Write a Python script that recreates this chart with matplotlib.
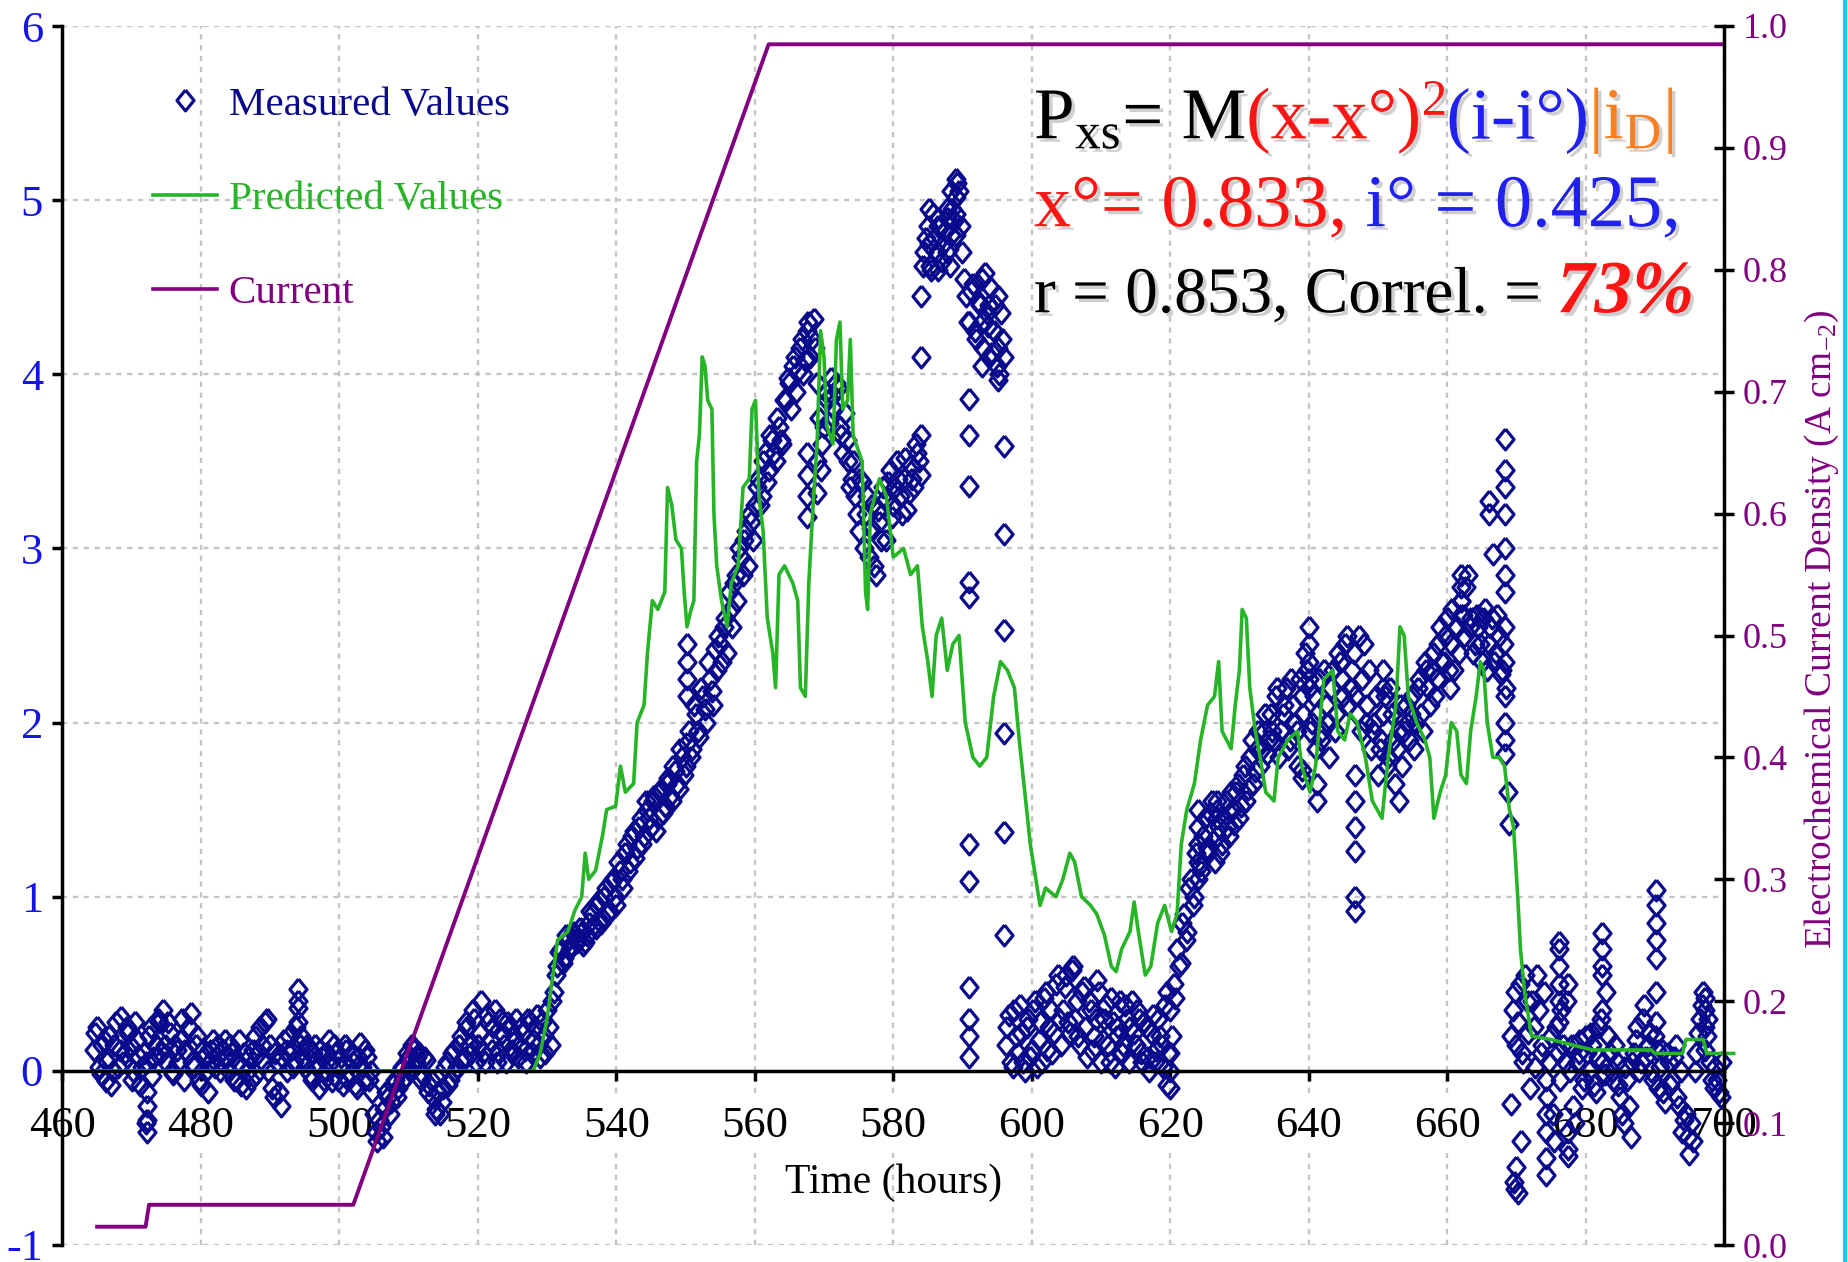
import numpy as np
import matplotlib.pyplot as plt
from matplotlib import transforms
from matplotlib.lines import Line2D
from matplotlib.offsetbox import TextArea, HPacker, VPacker, AnchoredOffsetbox
import matplotlib.patheffects as pe

plt.rcParams['font.family'] = ['Liberation Serif', 'DejaVu Serif']
plt.rcParams['mathtext.fontset'] = 'custom'
plt.rcParams['mathtext.rm'] = 'Liberation Serif'
plt.rcParams['mathtext.it'] = 'Liberation Serif:italic'
plt.rcParams['mathtext.bf'] = 'Liberation Serif:bold'
plt.rcParams['axes.unicode_minus'] = False

# measured values, one every half hour starting at 464.5 h (rows of 10 h)
meas_v = [
    0.12, 0.25, -0.02, 0.18, 0.05, -0.08, 0.15, 0.02, 0.31, 0.10, 0.22, -0.05, 0.28, 0.08, 0.02, -0.30, 0.20, -0.03, 0.15, 0.28,   # 464.5
    0.35, 0.05, 0.22, -0.02, 0.12, 0.18, -0.05, 0.10, 0.33, 0.02, 0.20, -0.08, 0.08, -0.12, 0.12, 0.02, 0.15, 0.05, 0.18, 0.00,   # 474.5
    0.10, -0.05, 0.18, 0.02, -0.10, 0.08, 0.12, -0.02, 0.25, 0.05, 0.30, 0.15, -0.15, 0.05, -0.20, 0.18, 0.00, 0.12, 0.05, 0.40,  # 484.5
    0.20, 0.02, 0.12, -0.05, 0.15, -0.10, 0.08, 0.00, 0.18, -0.06, 0.10, 0.02, -0.08, 0.12, -0.02, 0.05, -0.10, 0.16, -0.05, 0.08, # 494.5
    0.00, -0.25, -0.40, -0.32, -0.22, -0.15, -0.18, -0.05, -0.10, 0.02, -0.04, 0.08, 0.15, 0.05, 0.10, -0.02, 0.06, -0.08, -0.15, -0.22,  # 504.5
    -0.25, -0.10, 0.05, -0.05, 0.12, 0.02, 0.20, 0.08, 0.25, 0.10, 0.30, 0.15, 0.40, 0.05, 0.28, 0.12, 0.35, 0.10, 0.22, 0.05,   # 514.5
    0.25, 0.10, 0.30, 0.15, 0.22, 0.05, 0.28, 0.18, 0.32, 0.08, 0.20, 0.35, 0.15, 0.45, 0.60, 0.70, 0.65, 0.75, 0.72, 0.78,       # 524.5
    0.76, 0.80, 0.74, 0.85, 0.90, 0.82, 0.98, 0.88, 1.05, 0.92, 1.10, 0.95, 1.15, 1.05, 1.30, 1.20, 1.38, 1.28, 1.45, 1.35,       # 534.5
    1.50, 1.40, 1.58, 1.45, 1.62, 1.52, 1.68, 1.55, 1.72, 1.62, 1.80, 1.75, 1.95, 1.85, 2.05, 1.92, 2.15, 2.00, 2.25, 2.10,       # 544.5
    2.30, 2.45, 2.55, 2.40, 2.65, 2.80, 2.70, 2.95, 3.05, 2.90, 3.15, 3.25, 3.40, 3.30, 3.55, 3.45, 3.62, 3.50, 3.70, 3.60,       # 554.5
    3.85, 3.95, 4.05, 3.90, 4.15, 4.00, 4.25, 4.10, 4.32, 3.95, 3.45, 3.70, 3.85, 3.98, 3.80, 3.92, 3.65, 3.78, 3.50, 3.40,       # 564.5
    3.30, 3.10, 3.38, 3.20, 2.95, 3.25, 2.85, 3.15, 3.35, 3.05, 3.45, 3.25, 3.50, 3.30, 3.40, 3.22, 3.48, 3.35, 3.55, 3.42,       # 574.5
    4.70, 4.85, 4.60, 4.78, 4.90, 4.65, 4.82, 4.72, 4.95, 4.80, 5.05, 4.70, 4.45, 4.30, 4.52, 4.20, 4.40, 4.15, 4.35, 4.50,       # 584.5
    4.25, 4.05, 4.35, 4.10, 0.25, 0.05, 0.35, 0.10, 0.22, 0.00, 0.30, 0.12, 0.40, 0.18, 0.05, 0.45, 0.25, 0.10, 0.50, 0.30,       # 594.5
    0.35, 0.55, 0.22, 0.60, 0.40, 0.15, 0.48, 0.08, 0.35, 0.20, 0.52, 0.05, 0.30, 0.15, 0.42, 0.02, 0.25, 0.10, 0.38, 0.05,       # 604.5
    0.40, 0.15, 0.30, 0.05, 0.25, 0.00, 0.32, 0.12, 0.20, 0.02, -0.08, 0.35, 0.50, 0.70, 0.62, 0.90, 0.80, 1.10, 1.00, 1.30,      # 614.5
    1.15, 1.45, 1.25, 1.55, 1.20, 1.40, 1.30, 1.55, 1.35, 1.50, 1.60, 1.45, 1.70, 1.55, 1.80, 1.65, 1.85, 1.75, 1.95, 1.82,       # 624.5
    2.05, 1.90, 2.20, 1.95, 2.10, 1.85, 2.25, 2.00, 1.75, 2.15, 2.40, 2.20, 2.00, 1.85, 2.25, 1.95, 2.10, 1.80, 2.30, 2.05,       # 634.5
    2.35, 2.15, 2.50, 2.20, 2.40, 2.05, 1.95, 2.45, 2.10, 1.85, 2.00, 1.70, 1.90, 2.15, 1.80, 2.05, 1.65, 1.95, 1.75, 2.10,       # 644.5
    1.90, 2.15, 2.00, 2.25, 1.95, 2.30, 2.10, 2.40, 2.25, 2.55, 2.35, 2.60, 2.45, 2.30, 2.55, 2.70, 2.50, 2.85, 2.60, 2.45,       # 654.5
    2.55, 2.35, 2.65, 2.45, 2.60, 2.40, 2.50, 2.30, 2.20, 1.42, 0.35, 0.15, 0.50, 0.05, 0.40, -0.10, 0.25, 0.55, 0.10, 0.45,      # 664.5
    -0.15, 0.20, -0.40, 0.10, 0.35, 0.05, 0.50, 0.15, -0.30, 0.10, -0.10, 0.20, 0.00, 0.15, -0.12, 0.25, 0.05, 0.45, 0.10, -0.05, # 674.5
    0.05, -0.15, -0.30, -0.05, -0.38, 0.10, 0.25, 0.05, 0.38, 0.15, 0.00, 0.20, -0.10, 0.12, -0.18, 0.05, -0.05, 0.15, -0.20, -0.35,  # 684.5
    -0.25, -0.48, -0.40, 0.10, 0.30, 0.45, 0.20, 0.05, -0.10, -0.05, -0.15,                                                        # 694.5
]
meas_t = 464.5 + 0.5 * np.arange(len(meas_v))

# measured values read in between, starting at 464.75 h (rows of 10 h)
meas2_v = [
    0.22, 0.02, 0.15, -0.06, 0.20, 0.00, 0.28, 0.12, 0.05, 0.25, 0.15, 0.00, 0.18, -0.08, 0.10, 0.05, 0.25, 0.08, 0.30, 0.10,      # 464.75
    0.15, 0.28, 0.00, 0.15, 0.05, 0.30, 0.12, 0.25, 0.05, 0.15, -0.05, 0.12, 0.00, 0.05, 0.18, 0.08, 0.00, 0.12, 0.08, 0.15,       # 474.75
    -0.05, 0.05, -0.08, 0.10, 0.00, -0.05, 0.20, 0.10, 0.15, 0.28, 0.00, -0.10, 0.10, -0.12, 0.08, 0.12, 0.20, 0.02, 0.25, 0.15,   # 484.75
    0.08, 0.15, -0.02, 0.10, 0.02, 0.12, -0.05, 0.10, 0.05, 0.15, -0.05, 0.08, 0.15, -0.05, 0.10, -0.08, 0.08, 0.02, 0.12, -0.05,  # 494.75
    -0.12, -0.35, -0.28, -0.38, -0.12, -0.25, -0.08, -0.15, 0.00, -0.05, 0.10, 0.00, 0.12, 0.08, -0.05, 0.08, -0.12, -0.05, -0.25, -0.12,  # 504.75
    -0.18, 0.02, -0.08, 0.10, 0.00, 0.15, 0.05, 0.28, 0.15, 0.35, 0.05, 0.22, 0.10, 0.32, 0.18, 0.25, 0.05, 0.30, 0.15, 0.28,      # 514.75
    0.12, 0.20, 0.08, 0.25, 0.12, 0.30, 0.10, 0.25, 0.15, 0.28, 0.10, 0.25, 0.40, 0.55, 0.68, 0.62, 0.78, 0.70, 0.80, 0.74,        # 524.75
    0.82, 0.72, 0.78, 0.92, 0.84, 0.95, 0.85, 1.00, 0.90, 1.08, 1.00, 1.20, 1.10, 1.25, 1.15, 1.35, 1.22, 1.40, 1.30, 1.55,        # 534.75
    1.45, 1.55, 1.38, 1.60, 1.48, 1.65, 1.58, 1.75, 1.65, 1.85, 1.70, 1.88, 1.80, 2.10, 1.95, 2.20, 2.08, 2.35, 2.18, 2.42,        # 544.75
    2.50, 2.35, 2.60, 2.75, 2.55, 2.85, 3.00, 2.85, 3.10, 3.20, 3.05, 3.35, 3.25, 3.50, 3.38, 3.65, 3.55, 3.75, 3.62, 3.85,        # 554.75
    3.98, 3.80, 4.10, 4.02, 4.20, 4.08, 4.30, 4.20, 4.15, 3.75, 3.60, 3.90, 3.72, 3.88, 3.95, 3.70, 3.55, 3.62, 3.35, 3.50,        # 564.75
    3.20, 3.40, 3.00, 3.30, 3.12, 2.90, 3.22, 3.05, 3.28, 3.38, 3.18, 3.35, 3.40, 3.20, 3.52, 3.32, 3.40, 3.60, 3.50, 4.62,        # 574.75
    4.78, 4.62, 4.92, 4.70, 4.85, 4.75, 4.95, 4.62, 4.88, 5.10, 4.85, 4.55, 4.30, 4.48, 4.25, 4.42, 4.05, 4.58, 4.28, 4.12,        # 584.75
    4.40, 4.00, 4.20, 0.15, 0.32, 0.02, 0.20, 0.38, 0.05, 0.25, 0.08, 0.35, 0.02, 0.28, 0.42, 0.12, 0.35, 0.22, 0.55, 0.15,        # 594.75
    0.48, 0.28, 0.58, 0.30, 0.20, 0.45, 0.25, 0.40, 0.12, 0.30, 0.45, 0.18, 0.38, 0.05, 0.28, 0.20, 0.40, 0.15, 0.30, 0.25,        # 604.75
    0.22, 0.35, 0.10, 0.28, 0.08, 0.22, 0.05, 0.30, 0.15, 0.38, 0.10, 0.20, 0.42, 0.60, 0.85, 0.75, 1.05, 0.95, 1.25, 1.18,        # 614.75
    1.35, 1.28, 1.48, 1.32, 1.50, 1.25, 1.45, 1.40, 1.60, 1.42, 1.65, 1.52, 1.75, 1.62, 1.90, 1.72, 1.95, 1.85, 2.05, 1.90,        # 624.75
    1.95, 2.15, 1.80, 2.05, 2.20, 1.90, 2.10, 1.95, 2.25, 2.05, 2.30, 1.95, 2.15, 2.05, 1.90, 2.30, 2.00, 2.20, 1.95, 2.40,        # 634.75
    2.25, 2.45, 2.10, 2.30, 2.15, 2.50, 2.25, 2.00, 2.30, 1.95, 2.15, 1.85, 2.05, 1.75, 2.20, 1.90, 1.85, 2.10, 1.95, 2.00,        # 644.75
    2.05, 1.85, 2.20, 2.05, 2.35, 2.20, 2.30, 2.15, 2.45, 2.35, 2.50, 2.30, 2.65, 2.55, 2.40, 2.62, 2.78, 2.55, 2.40, 2.62,        # 654.75
    2.45, 2.60, 2.30, 2.55, 2.35, 2.62, 2.28, 2.45, 1.60, 0.20, 0.45, 0.28, 0.10, 0.55, 0.22, 0.40, 0.02, 0.35, 0.15, -0.05,       # 664.75
    0.05, -0.25, 0.25, -0.05, 0.15, 0.40, 0.00, -0.20, 0.05, 0.18, -0.05, 0.10, 0.22, -0.08, 0.08, 0.30, -0.02, 0.20, 0.00, 0.15,  # 674.75
    -0.08, -0.25, 0.02, -0.20, 0.05, 0.18, 0.00, 0.30, 0.08, 0.22, -0.05, 0.12, 0.02, -0.12, 0.10, -0.08, 0.08, -0.15, 0.00, -0.28,  # 684.75
    -0.38, -0.30, 0.00, 0.22, 0.38, 0.12, 0.30, -0.05, 0.02, -0.12, 0.05,                                                          # 694.75
]
meas2_t = 464.75 + 0.5 * np.arange(len(meas2_v))

# extra measured points (vertical stacks / outliers)
stack_t = [472.2, 472.2, 472.2, 472.2, 494.0, 494.0, 494.0,
           550.2, 550.2, 550.2, 550.2, 567.6, 567.6, 567.6, 567.6, 569.0, 569.0,
           584.0, 584.0, 584.0, 585.2, 585.2, 586.5, 586.5, 587.8, 587.8, 588.4, 588.4,
           589.0, 589.0, 589.0,
           590.9, 590.9, 590.9, 590.9, 590.9, 590.9, 590.9, 590.9, 590.9, 590.9, 590.9,
           592.8, 592.8, 593.8, 593.8, 595.2, 595.2, 595.2,
           596.0, 596.0, 596.0, 596.0, 596.0, 596.0,
           620.0, 620.0, 620.0, 619.6, 624.0, 624.0, 624.0, 624.0, 624.0,
           626.8, 626.8, 626.8, 640.0, 640.0, 640.0, 640.0, 641.2, 641.2, 639.0, 639.0,
           646.7, 646.7, 646.7, 646.7, 646.7, 646.7, 650.8, 650.8, 650.8, 653.0,
           662.0, 662.0, 662.0, 662.0, 660.4, 666.0, 666.0, 666.7,
           668.3, 668.3, 668.3, 668.3, 668.3, 668.3, 668.3, 668.3, 668.3, 668.3, 668.3, 668.3, 668.3,
           669.2, 670.7, 670.0, 669.6, 670.2, 669.8,
           674.3, 674.3, 674.3, 674.3, 676.2, 676.2, 676.2, 676.2, 676.2, 676.2,
           677.4, 677.4, 677.4, 682.4, 682.4, 682.4, 682.4, 682.4,
           690.2, 690.2, 690.2, 690.2, 690.2, 690.2, 690.2, 697.2, 697.2, 697.2]
stack_v = [-0.12, -0.20, -0.28, -0.35, 0.47, 0.36, 0.28,
           2.45, 2.35, 2.25, 2.15, 3.18, 3.30, 3.42, 3.55, 3.32, 3.50,
           4.45, 4.10, 3.65, 4.95, 4.75, 4.85, 4.60, 4.90, 4.70, 5.05, 4.80,
           5.12, 5.02, 4.92,
           3.86, 3.65, 3.36, 2.81, 2.72, 1.30, 1.09, 0.48, 0.30, 0.20, 0.08,
           4.55, 4.30, 4.40, 4.10, 4.45, 4.15, 3.97,
           3.59, 3.08, 2.53, 1.94, 1.37, 0.78,
           -0.10, 0.00, 0.10, 0.45, 1.50, 1.40, 1.30, 1.20, 1.10,
           1.55, 1.45, 1.35, 2.55, 2.45, 2.35, 2.25, 1.55, 1.65, 1.73, 1.68,
           1.70, 1.55, 1.40, 1.26, 1.00, 0.92, 2.30, 2.20, 2.05, 1.55,
           2.85, 2.78, 2.70, 2.62, 2.20, 3.27, 3.20, 2.97,
           3.63, 3.45, 3.35, 3.20, 3.00, 2.85, 2.75, 2.55, 2.35, 2.15, 2.00, 1.90, 1.82,
           -0.19, -0.40, -0.55, -0.64, -0.70, -0.68,
           -0.60, -0.50, -0.35, -0.25, 0.74, 0.70, 0.60, 0.50, 0.40, 0.28,
           -0.49, -0.45, -0.35, 0.79, 0.70, 0.60, 0.55, 0.35,
           1.04, 0.95, 0.85, 0.75, 0.65, 0.45, 0.28, 0.42, 0.35, 0.25]

# predicted values (green trace)
pred_t = [465, 528, 529, 530, 530.5, 531, 531.5, 533, 534, 535, 535.5, 536, 537, 538, 538.6, 539.9,
          540.6, 541.3, 542.5, 543, 544, 544.5, 545.2, 546, 547, 547.4, 548, 548.6, 549.4, 549.8,
          550.2, 550.8, 551.2, 551.6, 552.0, 552.4, 552.8, 553.2, 553.8, 554.1, 554.5, 555.2, 556,
          556.6, 557.6, 558.3, 559.2, 559.6, 560.1, 560.6, 561.2, 561.8, 562.6, 563.0, 563.5, 564.3,
          565.5, 566.2, 566.6, 567.3, 567.8, 568.5, 569.0, 569.5, 570.0, 570.4, 571.3, 571.8, 572.3,
          572.7, 573.4, 573.8, 574.2, 575.5, 576.0, 576.3, 576.7, 578.0, 579.0, 580.0, 581.5, 582.5,
          583.5, 584.2, 585.0, 585.6, 586.2, 587.0, 587.8, 588.6, 589.5, 590.4, 591.5, 592.5, 593.5,
          594.5, 595.5, 596.5, 597.5, 598.2, 599.0, 599.8, 600.6, 601.2, 602.0, 603.5, 604.5, 605.5,
          606.2, 607.2, 608.5, 609.4, 610.5, 611.5, 612.2, 613.0, 614.2, 614.8, 615.4, 616.4, 617.2,
          618.2, 619.2, 620.2, 621.0, 621.6, 622.4, 623.5, 624.4, 625.4, 626.4, 627.0, 627.5, 628.8,
          629.4, 630.0, 630.4, 631.0, 631.5, 632.3, 633.0, 633.8, 635.0, 635.6, 637.0, 638.4, 639.0,
          640.2, 641.0, 642.2, 643.5, 644.2, 645.2, 646.0, 647.0, 648.2, 649.2, 650.6, 651.5, 652.6,
          653.2, 653.8, 654.4, 655.6, 656.8, 657.5, 658.1, 659.0, 659.8, 660.6, 661.4, 662.0, 662.8,
          663.4, 664.2, 664.8, 665.3, 665.8, 666.6, 667.5, 668.3, 669.0, 669.6, 670.2, 670.6, 671.2,
          671.8, 672.2, 675.0, 678.0, 681.0, 689.5, 690.0, 694.0, 694.5, 697.0, 697.5, 701.4]
pred_v = [0, 0, 0.1, 0.3, 0.45, 0.6, 0.75, 0.8, 0.92, 1.0, 1.25, 1.1, 1.15, 1.35, 1.5, 1.52,
          1.75, 1.6, 1.65, 2.0, 2.1, 2.4, 2.7, 2.65, 2.75, 3.35, 3.25, 3.05, 3.0, 2.75,
          2.55, 2.65, 2.7, 3.5, 3.65, 4.1, 4.05, 3.85, 3.8, 3.2, 2.9, 2.7, 2.55,
          2.8, 2.9, 3.35, 3.4, 3.8, 3.85, 3.3, 3.1, 2.6, 2.4, 2.2, 2.85, 2.9,
          2.8, 2.7, 2.2, 2.15, 2.8, 3.3, 3.6, 4.25, 4.1, 3.7, 3.6, 4.2, 4.3,
          3.8, 3.85, 4.2, 3.65, 3.5, 2.75, 2.65, 3.2, 3.4, 3.3, 2.95, 3.0, 2.85,
          2.9, 2.55, 2.35, 2.15, 2.5, 2.6, 2.3, 2.45, 2.5, 2.0, 1.8, 1.75, 1.8,
          2.15, 2.35, 2.3, 2.2, 1.9, 1.6, 1.3, 1.1, 0.95, 1.05, 1.0, 1.1, 1.25,
          1.2, 1.0, 0.95, 0.9, 0.78, 0.6, 0.57, 0.7, 0.8, 0.97, 0.8, 0.55, 0.6,
          0.85, 0.95, 0.8, 0.9, 1.3, 1.5, 1.65, 1.9, 2.1, 2.15, 2.35, 1.95, 1.85,
          2.1, 2.3, 2.65, 2.6, 2.2, 1.95, 1.8, 1.6, 1.55, 1.8, 1.9, 1.95, 1.75,
          1.6, 1.75, 2.25, 2.3, 1.95, 1.9, 2.05, 2.0, 1.8, 1.55, 1.45, 1.8, 2.1,
          2.55, 2.5, 2.15, 2.0, 1.9, 1.8, 1.45, 1.6, 1.7, 2.0, 1.95, 1.7, 1.65,
          1.95, 2.15, 2.35, 2.3, 2.0, 1.8, 1.8, 1.75, 1.5, 1.4, 1.0, 0.7, 0.45,
          0.3, 0.2, 0.18, 0.15, 0.12, 0.12, 0.1, 0.1, 0.18, 0.18, 0.1, 0.1]

# electrochemical current density (right axis)
cur_t = [465, 472, 472.5, 502, 562, 700]
cur_v = [0.015, 0.015, 0.033, 0.033, 0.985, 0.985]

NAVY = '#0A0A8C'
GREEN = '#27B427'
PURPLE = '#800080'
BLUE = '#1414E6'

W, H = 1849, 1262
fig = plt.figure(figsize=(W / 100, H / 100), dpi=100)
ax1 = fig.add_axes([62.5 / W, 17 / H, (1724 - 62.5) / W, (1245 - 26) / H])
ax2 = ax1.twinx()
ax2.set_ylim(0, 1)

diamond = [(0, 1), (0.82, 0), (0, -1), (-0.82, 0), (0, 1)]
MS, MEW = 15, 2.3
for tt, vv in [(meas_t, meas_v), (meas2_t, meas2_v), (stack_t, stack_v)]:
    ax1.plot(tt, vv, ls='none', marker=diamond, ms=MS, mfc='none', mec=NAVY, mew=MEW,
             zorder=2, clip_on=False)
ax1.plot(pred_t, pred_v, color=GREEN, lw=2.6, zorder=2.1, clip_on=False)

trans = transforms.blended_transform_factory(ax1.transData, ax2.transData)
ax1.plot(cur_t, cur_v, color=PURPLE, lw=2.8, transform=trans, zorder=2.2)

ax1.set_xlim(460, 700)
ax1.set_ylim(-1, 6)

# spines
ax1.spines['top'].set_visible(False)
ax1.spines['right'].set_visible(False)
ax1.spines['bottom'].set_position(('data', 0))
ax1.spines['bottom'].set_linewidth(2.5)
ax1.spines['left'].set_linewidth(2.5)
for s in ['top', 'left', 'bottom']:
    ax2.spines[s].set_visible(False)
ax2.spines['right'].set_linewidth(2.5)

# ticks
ax1.set_xticks(range(460, 701, 20))
ax1.set_yticks(range(-1, 7))
ax1.tick_params(axis='x', direction='out', length=7, width=2.5, labelsize=32, pad=18)
ax1.tick_params(axis='y', direction='out', length=7, width=2.5, labelsize=32,
                labelcolor=BLUE, pad=7)
for tk in ax1.xaxis.get_major_ticks():
    tk.label1.set_bbox(dict(facecolor='white', edgecolor='none', pad=5))
ax2.set_yticks(np.round(np.arange(0, 1.01, 0.1), 1))
ax2.set_yticklabels(['%.1f' % v for v in np.arange(0, 1.01, 0.1)])
ax2.tick_params(axis='y', direction='inout', length=15, width=2.5, labelsize=26,
                labelcolor=PURPLE, pad=6)

ax1.grid(True, color='#C4C4C4', ls=(0, (2.2, 2.4)), lw=1.7)

ax1.text(0.5, 0.051, 'Time (hours)', transform=ax1.transAxes, ha='center', va='center',
         fontsize=30)
fig.text(1822 / W, 1 - 629 / H, 'Electrochemical Current Density (A cm$_{-2}$)',
         rotation=90, ha='center', va='center', fontsize=27, color=PURPLE)

# legend
handles = [Line2D([], [], ls='none', marker=diamond, ms=MS, mfc='none', mec=NAVY, mew=MEW),
           Line2D([], [], color=GREEN, lw=2.6),
           Line2D([], [], color=PURPLE, lw=2.6)]
labels = ['Measured Values', 'Predicted Values', 'Current']
leg = ax1.legend(handles, labels, loc='upper left', bbox_to_anchor=(153 / W, 1 - 86 / H),
                 bbox_transform=fig.transFigure, frameon=False, fontsize=29.5,
                 handlelength=1.55, handletextpad=0.3, labelspacing=1.38,
                 borderpad=0, borderaxespad=0)
for txt, c in zip(leg.get_texts(), [NAVY, GREEN, PURPLE]):
    txt.set_color(c)

# formula block
shadow = [pe.withSimplePatchShadow(offset=(2.5, -2.5), shadow_rgbFace='#777777', alpha=0.35)]
RED = '#FF1414'
FBLUE = '#2020F0'
ORANGE = '#FF7F1E'


def piece(s, color, size, **kw):
    return TextArea(s, textprops=dict(color=color, fontsize=size, path_effects=shadow, **kw))


line1 = HPacker(children=[piece('P$_{\\mathrm{xs}}$= M', 'black', 52.5),
                          piece('(x-x°)$^{2}$', RED, 52.5),
                          piece('(i-i°)', FBLUE, 52.5),
                          piece('|i$_{\\mathrm{D}}$|', ORANGE, 52.5)],
                align='baseline', pad=0, sep=0)
line2 = HPacker(children=[piece('x°= 0.833, ', RED, 53.5),
                          piece('i° = 0.425,', FBLUE, 53.5)],
                align='baseline', pad=0, sep=0)
line3 = HPacker(children=[piece('r = 0.853, Correl. = ', 'black', 47),
                          piece('73%', RED, 54, fontweight='bold', fontstyle='italic')],
                align='baseline', pad=0, sep=0)
block = VPacker(children=[line1, line2, line3], align='left', pad=0, sep=13)
ab = AnchoredOffsetbox(loc='upper left', child=block, pad=0, borderpad=0, frameon=False,
                       bbox_to_anchor=(1034 / W, 1 - 78 / H), bbox_transform=fig.transFigure)
ab.set_zorder(5)
ax1.add_artist(ab)

# cyan border at the right edge
fig.add_artist(Line2D([1845.5 / W, 1845.5 / W], [0, 1], transform=fig.transFigure,
                      color='#1EC8F0', lw=3))

fig.savefig('out.png', dpi=100)
